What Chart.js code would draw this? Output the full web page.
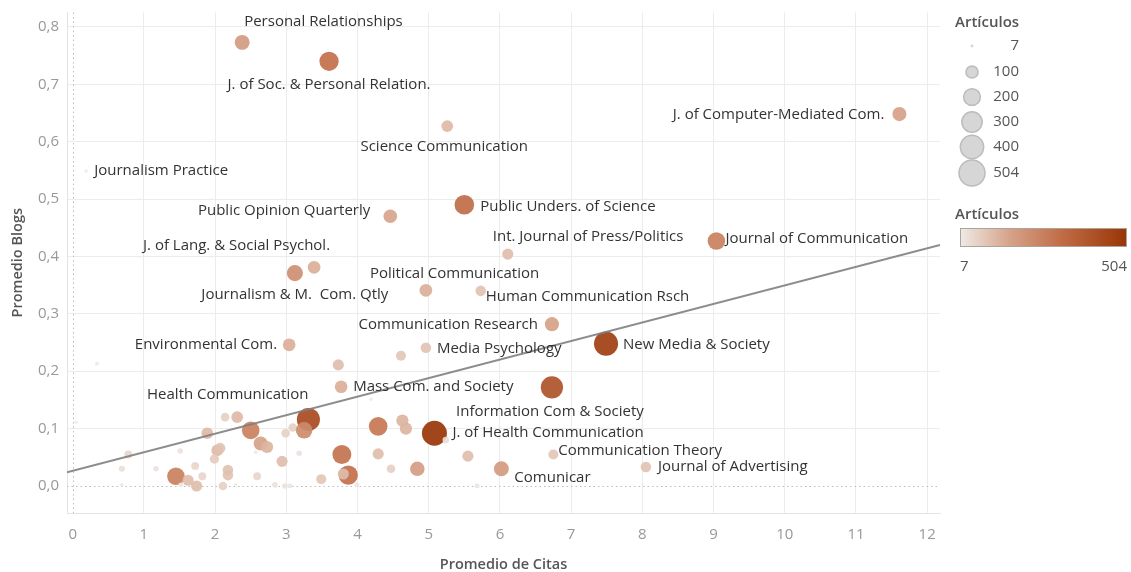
<!DOCTYPE html>
<html>
<head>
<meta charset="utf-8">
<script src="https://cdn.jsdelivr.net/npm/chart.js@4"></script>
<style>
  body { margin: 0; background: #fff; }
  #wrap { width: 1131px; height: 572px; }
</style>
</head>
<body>
<div id="wrap"><canvas id="chart" width="1131" height="572"></canvas></div>
<script>
// journal names ("" = no label shown)
const journals = [
  "Personal Relationships", "J. of Soc. & Personal Relation.", "Science Communication",
  "Journalism Practice", "J. of Computer-Mediated Com.", "Public Opinion Quarterly",
  "Public Unders. of Science", "Int. Journal of Press/Politics", "Journal of Communication",
  "Journalism & M.  Com. Qtly", "J. of Lang. & Social Psychol.", "Political Communication",
  "Human Communication Rsch", "Communication Research", "Media Psychology",
  "Environmental Com.", "New Media & Society", "Mass Com. and Society",
  "Information Com & Society", "J. of Health Communication", "Health Communication",
  "Communication Theory", "Journal of Advertising", "Comunicar",
  "", "", "", "", "", "", "", "", "", "", "", "", "", "", "", "", "", "", "", "", "",
  "", "", "", "", "", "", "", "", "", "", "", "", "", "", "", "", "", "", "", "", "",
  "", "", "", "", "", "", "", "", "", "", ""
];
// Promedio de Citas
const citas = [
  2.38, 3.60, 5.26, 0.19, 11.61, 4.46, 5.50, 6.11, 9.04, 3.12, 3.39, 4.96,
  5.73, 6.73, 4.96, 3.04, 7.49, 3.77, 6.73, 5.08, 3.31, 6.75, 8.05, 6.02,
  0.05, 0.34, 0.78, 0.69, 0.69, 1.51, 1.17, 1.45, 1.62, 1.74, 1.52, 1.72,
  1.82, 1.89, 2.14, 2.31, 2.03, 2.07, 1.99, 2.18, 2.18, 2.11, 2.29, 2.50,
  2.64, 2.73, 2.57, 2.59, 2.84, 2.98, 3.05, 2.94, 2.99, 3.09, 3.18, 3.25,
  3.78, 3.87, 3.80, 3.49, 3.99, 3.73, 4.61, 4.19, 4.29, 4.63, 4.68, 4.29,
  4.47, 4.84, 5.24, 5.55, 5.68
];
// Promedio Blogs
const blogs = [
  0.773, 0.740, 0.627, 0.549, 0.648, 0.470, 0.490, 0.404, 0.427, 0.371, 0.381, 0.341,
  0.340, 0.282, 0.241, 0.246, 0.248, 0.173, 0.172, 0.092, 0.116, 0.055, 0.033, 0.030,
  0.111, 0.213, 0.055, 0.030, 0.002, 0.061, 0.030, 0.017, 0.010, 0.000, 0.002, 0.035,
  0.017, 0.092, 0.120, 0.120, 0.062, 0.066, 0.047, 0.028, 0.019, 0.000, 0.002, 0.097,
  0.074, 0.068, 0.059, 0.017, 0.002, 0.000, 0.000, 0.043, 0.092, 0.102, 0.057, 0.097,
  0.055, 0.019, 0.021, 0.012, 0.002, 0.211, 0.227, 0.151, 0.104, 0.114, 0.100, 0.056,
  0.030, 0.030, 0.080, 0.052, 0.000
];
// Artículos
const articulos = [
  180, 300, 110, 10, 160, 150, 310, 100, 250, 210, 130, 130,
  90, 160, 90, 130, 470, 130, 400, 504, 430, 80, 90, 180,
  8, 12, 50, 30, 10, 25, 25, 250, 100, 100, 20, 50,
  50, 110, 60, 110, 110, 90, 70, 90, 90, 60, 10, 250,
  160, 120, 12, 50, 25, 25, 20, 100, 60, 60, 25, 220,
  290, 300, 100, 80, 20, 100, 80, 10, 280, 120, 120, 100,
  60, 170, 35, 100, 20
];
const xTicks = [0, 1, 2, 3, 4, 5, 6, 7, 8, 9, 10, 11, 12];
const yTicks = [0, 0.1, 0.2, 0.3, 0.4, 0.5, 0.6, 0.7, 0.8];
const sizeLegend = [7, 100, 200, 300, 400, 504];
const trendX = [-0.08, 12.18];
const trendY = [0.024, 0.420];

// label placement relative to its bubble
const labelPos = {
  "Personal Relationships": [2, -21, "left"],
  "J. of Soc. & Personal Relation.": [0, 23, "center"],
  "Science Communication": [-3, 21, "center"],
  "Journalism Practice": [8, 0, "left"],
  "J. of Computer-Mediated Com.": [-15, 1, "right"],
  "Public Opinion Quarterly": [-20, -6, "right"],
  "Public Unders. of Science": [16, 2, "left"],
  "Int. Journal of Press/Politics": [-15, -17, "left"],
  "Journal of Communication": [9, -2, "left"],
  "Journalism & M.  Com. Qtly": [0, 22, "center"],
  "J. of Lang. & Social Psychol.": [16, -22, "right"],
  "Political Communication": [-56, -17, "left"],
  "Human Communication Rsch": [5, 6, "left"],
  "Communication Research": [-14, 1, "right"],
  "Media Psychology": [11, 1, "left"],
  "Environmental Com.": [-12, 0, "right"],
  "New Media & Society": [17, 1, "left"],
  "Mass Com. and Society": [12, 0, "left"],
  "Information Com & Society": [-2, 24, "center"],
  "J. of Health Communication": [18, 0, "left"],
  "Health Communication": [0, -25, "right"],
  "Communication Theory": [5, -4, "left"],
  "Journal of Advertising": [12, 0, "left"],
  "Comunicar": [13, 9, "left"]
};

const FONT = "'Open Sans', sans-serif";
const minA = 7, maxA = 504, maxR = 12.5;
const stops = [
  [0, [239, 235, 231]],
  [0.3, [214, 162, 137]],
  [0.6, [193, 110, 72]],
  [1, [153, 53, 6]]
];

function radius(a) {
  return maxR * Math.sqrt(a / maxA);
}

function colorFor(a, alpha) {
  const t = Math.max(0, Math.min(1, (a - minA) / (maxA - minA)));
  for (let i = 1; i < stops.length; i++) {
    if (t <= stops[i][0]) {
      const [t0, c0] = stops[i - 1];
      const [t1, c1] = stops[i];
      const f = (t - t0) / (t1 - t0);
      const c = c0.map((v, k) => Math.round(v + (c1[k] - v) * f));
      return `rgba(${c[0]}, ${c[1]}, ${c[2]}, ${alpha})`;
    }
  }
}

const bubbles = citas.map((x, i) => ({ x: x, y: blogs[i], r: radius(articulos[i]) }));

// dotted zero lines
const zeroLines = {
  id: "zeroLines",
  beforeDatasetsDraw(chart) {
    const { ctx, chartArea, scales } = chart;
    const x0 = scales.x.getPixelForValue(0);
    const y0 = scales.y.getPixelForValue(0);
    ctx.save();
    ctx.strokeStyle = "#bdbdbd";
    ctx.lineWidth = 1;
    ctx.setLineDash([1.5, 3]);
    ctx.beginPath();
    ctx.moveTo(chartArea.left, Math.round(y0) + 0.5);
    ctx.lineTo(chartArea.right, Math.round(y0) + 0.5);
    ctx.moveTo(Math.round(x0) + 0.5, chartArea.top);
    ctx.lineTo(Math.round(x0) + 0.5, chartArea.bottom);
    ctx.stroke();
    ctx.restore();
  }
};

// journal names next to bubbles
const pointLabels = {
  id: "pointLabels",
  afterDatasetsDraw(chart) {
    const { ctx } = chart;
    const meta = chart.getDatasetMeta(1);
    ctx.save();
    ctx.font = "15px " + FONT;
    ctx.fillStyle = "#333";
    ctx.textBaseline = "middle";
    meta.data.forEach((el, i) => {
      const name = journals[i];
      if (!name) return;
      const p = labelPos[name] || [10, 0, "left"];
      ctx.textAlign = p[2];
      ctx.fillText(name, el.x + p[0], el.y + p[1]);
    });
    ctx.restore();
  }
};

// size + colour legends on the right
const sideLegends = {
  id: "sideLegends",
  afterDraw(chart) {
    const { ctx } = chart;
    ctx.save();
    ctx.fillStyle = "#555";
    ctx.font = "600 15px " + FONT;
    ctx.textAlign = "left";
    ctx.textBaseline = "middle";
    ctx.fillText("Artículos", 955, 23);

    const rows = [46, 72, 97, 122, 147, 173];
    sizeLegend.forEach((v, i) => {
      const r = radius(v) + (v > 7 ? 0.5 : 0);
      ctx.beginPath();
      ctx.arc(972, rows[i], r, 0, Math.PI * 2);
      ctx.fillStyle = "#d6d6d6";
      ctx.fill();
      if (v > 7) {
        ctx.strokeStyle = "#bcbcbc";
        ctx.lineWidth = 1.5;
        ctx.stroke();
      }
      ctx.fillStyle = "#555";
      ctx.font = "15px " + FONT;
      ctx.textAlign = "right";
      ctx.fillText(String(v), 1019, rows[i]);
    });

    ctx.fillStyle = "#555";
    ctx.font = "600 15px " + FONT;
    ctx.textAlign = "left";
    ctx.fillText("Artículos", 955, 215);

    const gx = 960, gy = 228, gw = 167, gh = 19;
    const grad = ctx.createLinearGradient(gx, 0, gx + gw, 0);
    stops.forEach(s => grad.addColorStop(s[0], `rgb(${s[1].join(",")})`));
    ctx.fillStyle = grad;
    ctx.fillRect(gx, gy, gw, gh);
    ctx.strokeStyle = "#aaa49c";
    ctx.lineWidth = 1;
    ctx.strokeRect(gx + 0.5, gy + 0.5, gw - 1, gh - 1);

    ctx.fillStyle = "#555";
    ctx.font = "15px " + FONT;
    ctx.textAlign = "left";
    ctx.fillText(String(minA), gx, 267);
    ctx.textAlign = "right";
    ctx.fillText(String(maxA), gx + gw, 267);
    ctx.restore();
  }
};

new Chart(document.getElementById("chart"), {
  data: {
    datasets: [
      {
        type: "line",
        data: trendX.map((x, i) => ({ x: x, y: trendY[i] })),
        borderColor: "rgba(128, 128, 128, 0.9)",
        borderWidth: 2,
        pointRadius: 0,
        order: 0
      },
      {
        type: "bubble",
        data: bubbles,
        backgroundColor: bubbles.map((b, i) => colorFor(articulos[i], 0.92)),
        borderWidth: 0,
        order: 1
      }
    ]
  },
  options: {
    responsive: false,
    animation: false,
    events: [],
    layout: { padding: { top: 10, right: 191, left: 0, bottom: 0 } },
    plugins: { legend: { display: false }, tooltip: { enabled: false } },
    scales: {
      x: {
        type: "linear",
        min: -0.08,
        max: 12.18,
        afterFit: (s) => { s.height = 59; s.paddingLeft = 0; s.paddingRight = 0; },
        afterBuildTicks: (s) => { s.ticks = xTicks.map(v => ({ value: v })); },
        grid: {
          color: (c) => (c.tick && c.tick.value === 0 ? "rgba(0,0,0,0)" : "#ececec"),
          drawTicks: false
        },
        border: { color: "#e4e4e4" },
        ticks: {
          padding: 13,
          color: "#999",
          font: { family: FONT, size: 15 },
          callback: (v) => String(v)
        },
        title: {
          display: true,
          text: "Promedio de Citas",
          color: "#555",
          font: { family: FONT, size: 14.5, weight: "600", lineHeight: 1 },
          padding: { top: 0, bottom: 0 }
        }
      },
      y: {
        type: "linear",
        min: -0.047,
        max: 0.825,
        afterFit: (s) => { s.width = 67; s.paddingTop = 0; s.paddingBottom = 0; },
        afterBuildTicks: (s) => { s.ticks = yTicks.map(v => ({ value: v })); },
        grid: {
          color: (c) => (c.tick && c.tick.value === 0 ? "rgba(0,0,0,0)" : "#ececec"),
          drawTicks: false
        },
        border: { color: "#e4e4e4" },
        ticks: {
          padding: 8,
          color: "#999",
          font: { family: FONT, size: 15 },
          callback: (v) => v.toFixed(1).replace(".", ",")
        },
        title: {
          display: true,
          text: "Promedio Blogs",
          color: "#555",
          font: { family: FONT, size: 14.5, weight: "600", lineHeight: 1 },
          padding: { top: 11, bottom: 0 }
        }
      }
    }
  },
  plugins: [zeroLines, pointLabels, sideLegends]
});
</script>
</body>
</html>
